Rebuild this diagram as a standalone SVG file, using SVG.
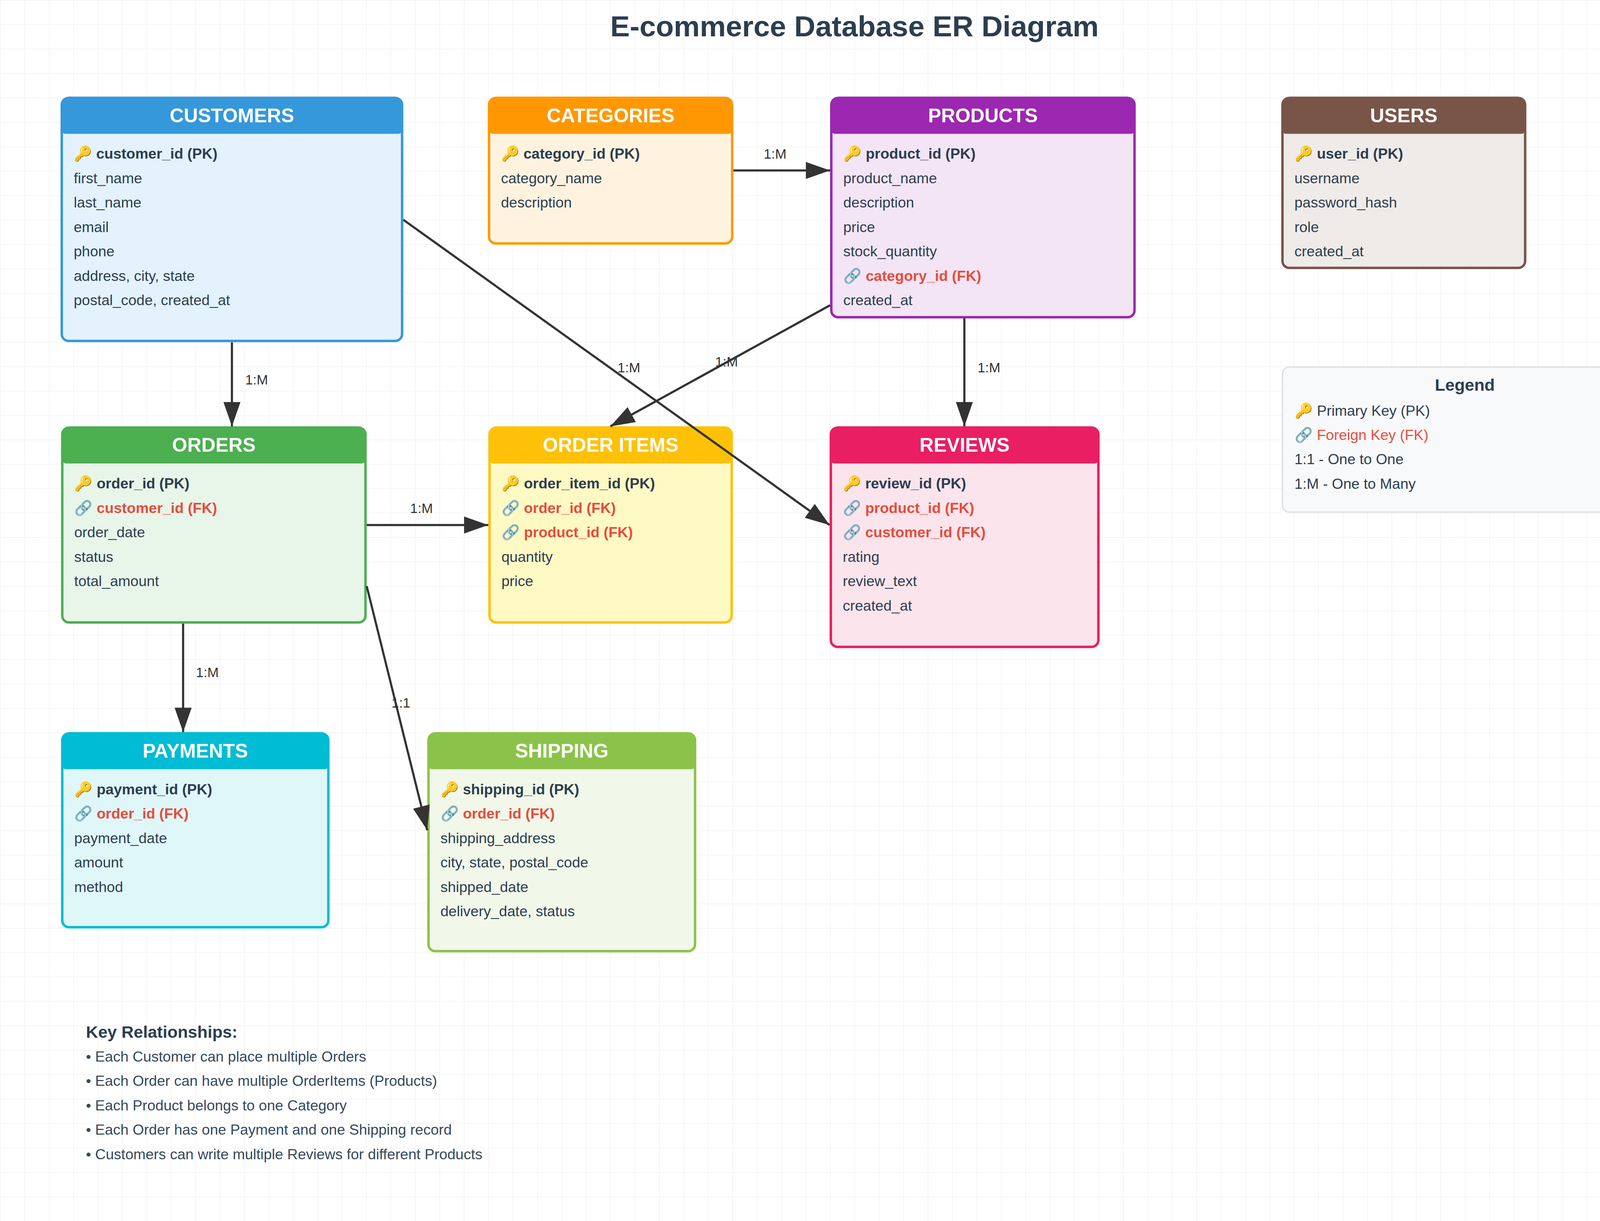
<svg xmlns="http://www.w3.org/2000/svg" width="4375" height="3125" viewBox="0 0 4375 3125">
<defs>
<pattern id="grid" width="25" height="25" patternUnits="userSpaceOnUse">
<path d="M25 0H0V25" fill="none" stroke="#efefef" stroke-width="1"/>
</pattern>
<marker id="arr" markerUnits="userSpaceOnUse" markerWidth="25" markerHeight="17.5" refX="25" refY="8.75" orient="auto">
<path d="M0,0 L25,8.75 L0,17.5 Z" fill="#333"/>
</marker>
<style>
text{font-family:"Liberation Sans",Arial,Helvetica,sans-serif}
.title{font-size:30px;font-weight:bold;fill:#2c3e50;text-anchor:middle}
.hdr{font-size:20px;font-weight:bold;fill:#fff;text-anchor:middle}
.row{font-size:15px;fill:#2c3e50}
.pk{font-weight:bold}
.fk{font-weight:bold;fill:#e74c3c}
.lbl{font-size:14px;fill:#333;text-anchor:middle}
.conn{stroke:#333;stroke-width:2.2;fill:none;marker-end:url(#arr)}
.h4{font-size:17.25px;font-weight:bold;fill:#2c3e50}
.li{font-size:15px;fill:#34495e}
</style>
</defs>
<g transform="scale(2.5)">
<rect width="1750" height="1250" fill="#fff"/>
<rect width="1750" height="1250" fill="url(#grid)"/>
<text class="title" x="875" y="37.3">E-commerce Database ER Diagram</text>

<g id="customers">
<rect x="63.25" y="100.25" width="348.5" height="248.75" rx="7" fill="#e3f2fd" stroke="#3498db" stroke-width="2.5"/>
<path d="M63,107 a8,8 0 0 1 8,-8 H404 a8,8 0 0 1 8,8 V133 a4,4 0 0 1 -4,4 H67 a4,4 0 0 1 -4,-4 Z" fill="#3498db"/>
<text class="hdr" x="237.5" y="125">CUSTOMERS</text>
<text class="row pk" x="75.5" y="162.5">🔑 customer_id (PK)</text>
<text class="row" x="75.5" y="187.5">first_name</text>
<text class="row" x="75.5" y="212.5">last_name</text>
<text class="row" x="75.5" y="237.5">email</text>
<text class="row" x="75.5" y="262.5">phone</text>
<text class="row" x="75.5" y="287.5">address, city, state</text>
<text class="row" x="75.5" y="312.5">postal_code, created_at</text>
</g>

<g id="categories">
<rect x="500.75" y="100.25" width="249" height="149" rx="7" fill="#fff3e0" stroke="#ff9800" stroke-width="2.5"/>
<path d="M500.5,107 a8,8 0 0 1 8,-8 H742 a8,8 0 0 1 8,8 V133 a4,4 0 0 1 -4,4 H504.5 a4,4 0 0 1 -4,-4 Z" fill="#ff9800"/>
<text class="hdr" x="625.25" y="125">CATEGORIES</text>
<text class="row pk" x="513" y="162.5">🔑 category_id (PK)</text>
<text class="row" x="513" y="187.5">category_name</text>
<text class="row" x="513" y="212.5">description</text>
</g>

<g id="products">
<rect x="851.25" y="100.25" width="310.5" height="224.5" rx="7" fill="#f3e5f5" stroke="#9c27b0" stroke-width="2.5"/>
<path d="M851,107 a8,8 0 0 1 8,-8 H1154 a8,8 0 0 1 8,8 V133 a4,4 0 0 1 -4,4 H855 a4,4 0 0 1 -4,-4 Z" fill="#9c27b0"/>
<text class="hdr" x="1006.5" y="125">PRODUCTS</text>
<text class="row pk" x="863.5" y="162.5">🔑 product_id (PK)</text>
<text class="row" x="863.5" y="187.5">product_name</text>
<text class="row" x="863.5" y="212.5">description</text>
<text class="row" x="863.5" y="237.5">price</text>
<text class="row" x="863.5" y="262.5">stock_quantity</text>
<text class="row fk" x="863.5" y="287.5">🔗 category_id (FK)</text>
<text class="row" x="863.5" y="312.5">created_at</text>
</g>

<g id="users">
<rect x="1313.25" y="100.25" width="248.5" height="174" rx="7" fill="#efebe9" stroke="#795548" stroke-width="2.5"/>
<path d="M1313,107 a8,8 0 0 1 8,-8 H1554 a8,8 0 0 1 8,8 V133 a4,4 0 0 1 -4,4 H1317 a4,4 0 0 1 -4,-4 Z" fill="#795548"/>
<text class="hdr" x="1437.5" y="125">USERS</text>
<text class="row pk" x="1325.5" y="162.5">🔑 user_id (PK)</text>
<text class="row" x="1325.5" y="187.5">username</text>
<text class="row" x="1325.5" y="212.5">password_hash</text>
<text class="row" x="1325.5" y="237.5">role</text>
<text class="row" x="1325.5" y="262.5">created_at</text>
</g>

<g id="legend">
<rect x="1313.25" y="375.75" width="373.5" height="148.5" rx="7" fill="#f8f9fa" stroke="#dee2e6" stroke-width="1.5"/>
<text class="h4" x="1500" y="400" text-anchor="middle">Legend</text>
<text class="row" x="1325.5" y="425.5">🔑 Primary Key (PK)</text>
<text class="row" x="1325.5" y="450.5" style="fill:#e74c3c">🔗 Foreign Key (FK)</text>
<text class="row" x="1325.5" y="475.3">1:1 - One to One</text>
<text class="row" x="1325.5" y="500.2">1:M - One to Many</text>
</g>

<g id="orders">
<rect x="63.75" y="437.75" width="310.5" height="199.5" rx="7" fill="#e8f5e9" stroke="#4caf50" stroke-width="2.5"/>
<path d="M63.5,444.5 a8,8 0 0 1 8,-8 H366.5 a8,8 0 0 1 8,8 V470.5 a4,4 0 0 1 -4,4 H67.5 a4,4 0 0 1 -4,-4 Z" fill="#4caf50"/>
<text class="hdr" x="219" y="462.5">ORDERS</text>
<text class="row pk" x="76" y="500">🔑 order_id (PK)</text>
<text class="row fk" x="76" y="525">🔗 customer_id (FK)</text>
<text class="row" x="76" y="550">order_date</text>
<text class="row" x="76" y="575">status</text>
<text class="row" x="76" y="600">total_amount</text>
</g>

<g id="order_items">
<rect x="501.25" y="437.75" width="248" height="199.5" rx="7" fill="#fff9c4" stroke="#ffc107" stroke-width="2.5"/>
<path d="M501,444.5 a8,8 0 0 1 8,-8 H741.5 a8,8 0 0 1 8,8 V470.5 a4,4 0 0 1 -4,4 H505 a4,4 0 0 1 -4,-4 Z" fill="#ffc107"/>
<text class="hdr" x="625.25" y="462.5">ORDER ITEMS</text>
<text class="row pk" x="513.5" y="500">🔑 order_item_id (PK)</text>
<text class="row fk" x="513.5" y="525">🔗 order_id (FK)</text>
<text class="row fk" x="513.5" y="550">🔗 product_id (FK)</text>
<text class="row" x="513.5" y="575">quantity</text>
<text class="row" x="513.5" y="600">price</text>
</g>

<g id="reviews">
<rect x="850.75" y="437.75" width="274" height="224.5" rx="7" fill="#fce4ec" stroke="#e91e63" stroke-width="2.5"/>
<path d="M850.5,444.5 a8,8 0 0 1 8,-8 H1117 a8,8 0 0 1 8,8 V470.5 a4,4 0 0 1 -4,4 H854.5 a4,4 0 0 1 -4,-4 Z" fill="#e91e63"/>
<text class="hdr" x="987.75" y="462.5">REVIEWS</text>
<text class="row pk" x="863" y="500">🔑 review_id (PK)</text>
<text class="row fk" x="863" y="525">🔗 product_id (FK)</text>
<text class="row fk" x="863" y="550">🔗 customer_id (FK)</text>
<text class="row" x="863" y="575">rating</text>
<text class="row" x="863" y="600">review_text</text>
<text class="row" x="863" y="625">created_at</text>
</g>

<g id="payments">
<rect x="63.75" y="750.75" width="272.5" height="198.5" rx="7" fill="#e0f7fa" stroke="#00bcd4" stroke-width="2.5"/>
<path d="M63.5,757.5 a8,8 0 0 1 8,-8 H328.5 a8,8 0 0 1 8,8 V783.5 a4,4 0 0 1 -4,4 H67.5 a4,4 0 0 1 -4,-4 Z" fill="#00bcd4"/>
<text class="hdr" x="200" y="775.5">PAYMENTS</text>
<text class="row pk" x="76" y="813">🔑 payment_id (PK)</text>
<text class="row fk" x="76" y="838">🔗 order_id (FK)</text>
<text class="row" x="76" y="863">payment_date</text>
<text class="row" x="76" y="888">amount</text>
<text class="row" x="76" y="913">method</text>
</g>

<g id="shipping">
<rect x="438.75" y="750.75" width="273" height="223" rx="7" fill="#f1f8e9" stroke="#8bc34a" stroke-width="2.5"/>
<path d="M438.5,757.5 a8,8 0 0 1 8,-8 H704 a8,8 0 0 1 8,8 V783.5 a4,4 0 0 1 -4,4 H442.5 a4,4 0 0 1 -4,-4 Z" fill="#8bc34a"/>
<text class="hdr" x="575.25" y="775.5">SHIPPING</text>
<text class="row pk" x="451" y="813">🔑 shipping_id (PK)</text>
<text class="row fk" x="451" y="838">🔗 order_id (FK)</text>
<text class="row" x="451" y="863">shipping_address</text>
<text class="row" x="451" y="888">city, state, postal_code</text>
<text class="row" x="451" y="913">shipped_date</text>
<text class="row" x="451" y="938">delivery_date, status</text>
</g>

<g id="connectors">
<line class="conn" x1="237.5" y1="350.5" x2="237.5" y2="436.5"/>
<text class="lbl" x="262.8" y="393.7">1:M</text>
<line class="conn" x1="751" y1="174.5" x2="850" y2="174.5"/>
<text class="lbl" x="793.7" y="162.2">1:M</text>
<line class="conn" x1="850" y1="312.5" x2="625" y2="436.5"/>
<text class="lbl" x="744" y="375">1:M</text>
<line class="conn" x1="413" y1="225" x2="849.5" y2="537.5"/>
<text class="lbl" x="644" y="381.3">1:M</text>
<line class="conn" x1="987.5" y1="326" x2="987.5" y2="436.5"/>
<text class="lbl" x="1012.7" y="381.3">1:M</text>
<line class="conn" x1="375.5" y1="537.5" x2="500" y2="537.5"/>
<text class="lbl" x="431.6" y="525">1:M</text>
<line class="conn" x1="187.5" y1="638.5" x2="187.5" y2="749.5"/>
<text class="lbl" x="212.3" y="693.3">1:M</text>
<line class="conn" x1="375.5" y1="600" x2="437.5" y2="850"/>
<text class="lbl" x="410.5" y="724.5">1:1</text>
</g>

<g id="key_relationships">
<text class="h4" x="88" y="1062.3">Key Relationships:</text>
<text class="li" x="88" y="1086.7">• Each Customer can place multiple Orders</text>
<text class="li" x="88" y="1111.7">• Each Order can have multiple OrderItems (Products)</text>
<text class="li" x="88" y="1136.7">• Each Product belongs to one Category</text>
<text class="li" x="88" y="1161.7">• Each Order has one Payment and one Shipping record</text>
<text class="li" x="88" y="1186.7">• Customers can write multiple Reviews for different Products</text>
</g>
</g>
</svg>
